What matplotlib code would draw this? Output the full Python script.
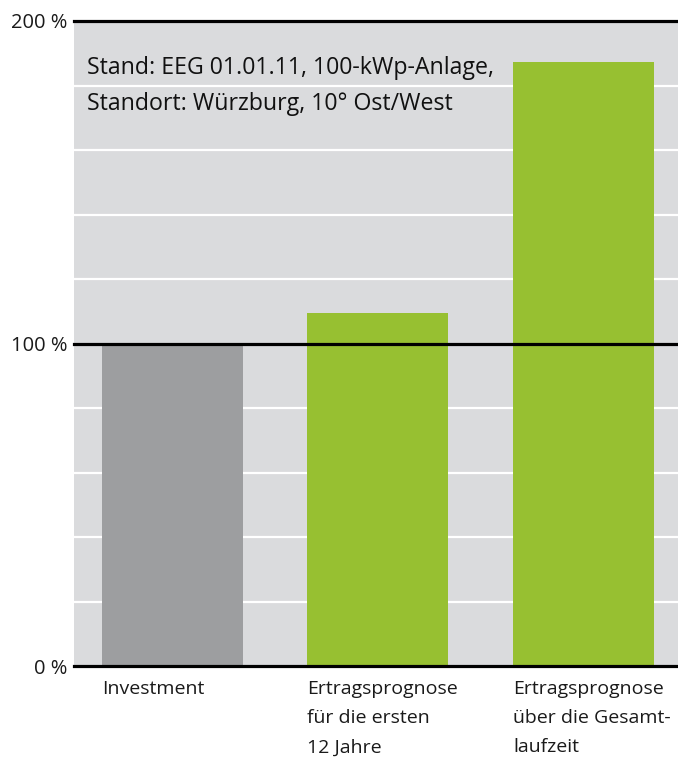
import matplotlib.pyplot as plt
import numpy as np

plt.rcParams['font.family'] = ['Open Sans', 'DejaVu Sans']

# values (percent of investment)
categories = ['Investment',
              'Ertragsprognose\nfür die ersten\n12 Jahre',
              'Ertragsprognose\nüber die Gesamt-\nlaufzeit']
values = [100, 109.5, 187.4]
bar_colours = ['#9d9ea0', '#97c031', '#97c031']
major_ticks = [0, 100, 200]
major_labels = ['0 %', '100 %', '200 %']
minor_ticks = [20, 40, 60, 80, 120, 140, 160, 180]
note = 'Stand: EEG 01.01.11, 100-kWp-Anlage,\nStandort: Würzburg, 10° Ost/West'

fig = plt.figure(figsize=(6.78, 7.6), dpi=100)
ax = fig.add_axes([74 / 678, 94 / 760, 604 / 678, 645 / 760])
ax.set_facecolor('#dadbdd')

x = np.arange(len(categories))
width = 0.686

# grid lines below the bars
for t in minor_ticks:
    ax.axhline(t, color='white', lw=1.6, zorder=1)
ax.bar(x, values, width=width, color=bar_colours, zorder=2)
for t in major_ticks:
    ax.axhline(t, color='black', lw=2.3, zorder=3, clip_on=False)

ax.set_xlim(-0.479, 2.46)
ax.set_ylim(0, 200)

ax.set_yticks(major_ticks)
ax.set_yticklabels(major_labels, fontsize=14.5)
ax.set_xticks(x - width / 2)
ax.set_xticklabels(categories, fontsize=14, ha='left', va='top', linespacing=1.8)
ax.tick_params(axis='both', length=0, colors='#1a1a1a')
ax.tick_params(axis='y', pad=5)
ax.tick_params(axis='x', pad=10)

for side in ['left', 'right', 'top', 'bottom']:
    ax.spines[side].set_visible(False)

ax.text(13 / 604, (666 - 56) / 645, note, transform=ax.transAxes,
        fontsize=16.7, va='top', ha='left', linespacing=1.65, color='#111111', zorder=4)

plt.savefig('out.png', dpi=100)
